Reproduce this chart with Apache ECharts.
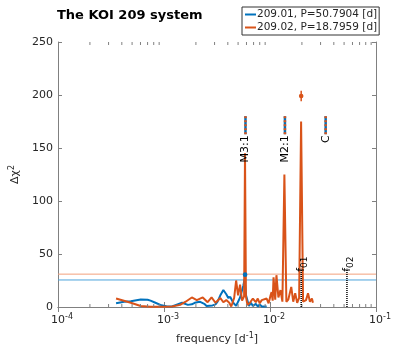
<!DOCTYPE html>
<html>
<head>
<meta charset="utf-8">
<script src="https://cdn.jsdelivr.net/npm/echarts@6/dist/echarts.min.js"></script>
<style>
html, body { margin: 0; padding: 0; background: #fff; }
#chart { width: 416px; height: 353px; }
</style>
</head>
<body>
<div id="chart"></div>
<script>
// periodogram of planet 209.01 (blue)
const freq01 = [3.53e-4, 4.2e-4, 4.86e-4, 6.03e-4, 7.0e-4, 7.46e-4, 8.3e-4, 9.24e-4, 1.07e-3, 1.19e-3, 1.3e-3, 1.48e-3,
  1.68e-3, 1.83e-3, 1.95e-3, 2.17e-3, 2.4e-3, 2.52e-3, 2.87e-3, 3.06e-3, 3.2e-3, 3.40e-3, 3.63e-3, 3.87e-3, 4.04e-3,
  4.22e-3, 4.5e-3, 4.79e-3, 5.22e-3, 5.6e-3, 5.75e-3, 5.94e-3, 6.33e-3, 6.61e-3, 6.89e-3, 7.35e-3, 7.67e-3, 8.0e-3,
  8.36e-3, 8.72e-3, 9.3e-3];
const dchi01 = [3.5, 5, 5.5, 7, 6.8, 6, 4, 2, 0.5, 0.5, 2, 4,
  2, 2.5, 4, 5, 3, 1, 1.5, 2.5, 5, 11, 16, 12, 8.5,
  9.5, 4, 1, 9, 20, 26, 11, 1, 4, 1, 3, 0.5, 2.5,
  0.5, 2, 0.5];

// periodogram of planet 209.02 (orange)
const freq02 = [3.53e-4, 4.86e-4, 6.03e-4, 7.46e-4, 9.24e-4, 1.19e-3, 1.42e-3, 1.6e-3, 1.83e-3, 2.04e-3, 2.32e-3, 2.58e-3,
  2.81e-3, 3.06e-3, 3.40e-3, 3.63e-3, 3.87e-3, 4.13e-3, 4.31e-3, 4.59e-3, 4.79e-3, 5.0e-3, 5.22e-3, 5.45e-3,
  5.7e-3, 5.81e-3, 5.93e-3, 6.12e-3, 6.47e-3, 6.89e-3, 7.35e-3, 7.67e-3, 8.0e-3, 8.36e-3, 8.72e-3, 9.3e-3, 9.7e-3,
  1.013e-2, 1.035e-2, 1.06e-2, 1.08e-2, 1.12e-2, 1.15e-2, 1.2e-2, 1.228e-2, 1.255e-2, 1.309e-2, 1.367e-2, 1.427e-2,
  1.489e-2, 1.587e-2, 1.656e-2, 1.729e-2, 1.805e-2, 1.883e-2, 1.965e-2, 2.051e-2, 2.187e-2, 2.283e-2, 2.382e-2,
  2.487e-2, 2.541e-2];
const dchi02 = [8, 4, 1, 0.3, 0.2, 0.5, 2, 5, 9, 6.5, 9, 4.5,
  9, 4, 8.5, 4.5, 6.5, 4, 0.5, 8.5, 25, 11, 21, 6,
  10, 145, 10, 2, 4, 8, 4.5, 8, 3.5, 6.5, 6.5, 8, 3.5,
  11, 14, 6, 28, 7, 30, 9, 8.5, 16, 5, 125, 5,
  7, 19, 5, 13, 4, 8.5, 175, 5, 6.5, 13, 5,
  8, 4];

const seriesNames = ['209.01, P=50.7904 [d]', '209.02, P=18.7959 [d]'];
const thresholds = [25.5, 31];

// resonance markers
const markerNames = ['M3:1', 'M2:1', 'C'];
const markerFreqs = [0.00587, 0.01383, 0.0335];
const markerRange = [163, 180];

// orbital frequencies
const orbitNames = ['01', '02'];
const orbitFreqs = [0.01969, 0.0532];
const orbitTop = 36;

// best fit points with error bars
const bestFreqs = [0.00582, 0.01969];
const bestDchi = [30.5, 199];
const bestErr = [0.8, 5];

const minorTicks = [2e-4, 3e-4, 4e-4, 5e-4, 6e-4, 7e-4, 8e-4, 9e-4,
  2e-3, 3e-3, 4e-3, 5e-3, 6e-3, 7e-3, 8e-3, 9e-3,
  2e-2, 3e-2, 4e-2, 5e-2, 6e-2, 7e-2, 8e-2, 9e-2];

const blue = '#0072BD';
const orange = '#D95319';
const font = 'DejaVu Sans';
const txt = '#262626';
const axisGray = '#808080';

const chart = echarts.init(document.getElementById('chart'));

const zip = (xs, ys) => xs.map((x, i) => [x, ys[i]]);

const supRich = {
  b: { fontSize: 11, lineHeight: 15, color: txt, fontFamily: font },
  s: { fontSize: 8, lineHeight: 9, verticalAlign: 'top', color: txt, fontFamily: font }
};

const option = {
  animation: false,
  title: {
    text: 'The KOI 209 system',
    left: 52, top: 4,
    textStyle: { fontSize: 13, fontWeight: 'bold', color: '#000', fontFamily: font }
  },
  legend: {
    data: seriesNames,
    orient: 'vertical',
    left: 242, top: 7,
    icon: 'rect',
    itemWidth: 11, itemHeight: 2, itemGap: 2,
    borderColor: '#333', borderWidth: 1, borderRadius: 0,
    padding: [2, 2, 2, 3],
    textStyle: { fontSize: 10.5, color: txt, fontFamily: font, padding: [0, 0, 0, -4] }
  },
  grid: { left: 54, right: 40, top: 42, bottom: 46 },
  xAxis: [{
    type: 'log', logBase: 10, min: 1e-4, max: 1e-1,
    name: '{a|frequency [d}{s|-1}{a|]}',
    nameLocation: 'middle', nameGap: 25,
    nameTextStyle: {
      rich: {
        a: { fontSize: 11, lineHeight: 15, color: txt, fontFamily: font },
        s: { fontSize: 8, lineHeight: 9, verticalAlign: 'top', color: txt, fontFamily: font }
      }
    },
    axisLine: { lineStyle: { color: axisGray, width: 1 } },
    axisTick: { inside: true, length: 5, lineStyle: { color: axisGray } },
    axisLabel: {
      margin: 6,
      padding: [0, 0, 0, 8],
      formatter: v => '{b|10}{s|' + Math.round(Math.log10(v)) + '}',
      rich: supRich
    },
    splitLine: { show: false }
  }, {
    type: 'log', logBase: 10, min: 1e-4, max: 1e-1, position: 'top',
    axisLine: { lineStyle: { color: axisGray, width: 1 } },
    axisTick: { inside: true, length: 5, lineStyle: { color: axisGray } },
    axisLabel: { show: false },
    splitLine: { show: false }
  }],
  yAxis: [{
    type: 'value', min: 0, max: 250, interval: 50,
    name: '{a|\u0394\u03c7}{s|2}',
    nameLocation: 'middle', nameRotate: 90, nameGap: 35,
    nameTextStyle: {
      rich: {
        a: { fontSize: 11, lineHeight: 15, color: txt, fontFamily: font },
        s: { fontSize: 8, lineHeight: 9, verticalAlign: 'top', color: txt, fontFamily: font }
      }
    },
    axisLine: { show: true, lineStyle: { color: axisGray, width: 1 } },
    axisTick: { inside: true, length: 4, lineStyle: { color: axisGray } },
    axisLabel: { fontSize: 11, color: txt, fontFamily: font, margin: 5 },
    splitLine: { show: false }
  }, {
    type: 'value', min: 0, max: 250, interval: 50, position: 'right',
    axisLine: { show: true, lineStyle: { color: axisGray, width: 1 } },
    axisTick: { inside: true, length: 4, lineStyle: { color: axisGray } },
    axisLabel: { show: false },
    splitLine: { show: false }
  }],
  series: [
    {
      name: 'thr01', type: 'line', silent: true, symbol: 'none', z: 1,
      data: [[1e-4, thresholds[0]], [1e-1, thresholds[0]]],
      lineStyle: { color: '#4da3dc', width: 1 }
    },
    {
      name: 'thr02', type: 'line', silent: true, symbol: 'none', z: 1,
      data: [[1e-4, thresholds[1]], [1e-1, thresholds[1]]],
      lineStyle: { color: '#f2a07c', width: 1 }
    },
    {
      name: seriesNames[0], type: 'line', symbol: 'none', z: 3,
      data: zip(freq01, dchi01),
      itemStyle: { color: blue },
      lineStyle: { color: blue, width: 2 }
    },
    {
      name: seriesNames[1], type: 'line', symbol: 'none', z: 4,
      data: zip(freq02, dchi02),
      itemStyle: { color: orange },
      lineStyle: { color: orange, width: 2 }
    },
    {
      // minor ticks of the log axis, bottom and top
      type: 'custom', silent: true, clip: false, z: 5,
      data: minorTicks.map(f => [f, 0]),
      renderItem: (params, api) => {
        const b = api.coord([api.value(0), 0]);
        const t = api.coord([api.value(0), 250]);
        return {
          type: 'group', children: [
            { type: 'line', shape: { x1: b[0], y1: b[1], x2: b[0], y2: b[1] - 3 }, style: { stroke: axisGray, lineWidth: 1 } },
            { type: 'line', shape: { x1: t[0], y1: t[1], x2: t[0], y2: t[1] + 3 }, style: { stroke: axisGray, lineWidth: 1 } }
          ]
        };
      }
    },
    {
      // resonance markers with labels
      type: 'custom', silent: true, z: 6,
      data: markerFreqs.map((f, i) => [f, markerRange[0], markerRange[1], i]),
      renderItem: (params, api) => {
        const p0 = api.coord([api.value(0), api.value(1)]);
        const p1 = api.coord([api.value(0), api.value(2)]);
        return {
          type: 'group', children: [
            { type: 'line', shape: { x1: p0[0], y1: p0[1], x2: p1[0], y2: p1[1] }, style: { stroke: blue, lineWidth: 2.5 } },
            { type: 'line', shape: { x1: p0[0], y1: p0[1], x2: p1[0], y2: p1[1] }, style: { stroke: orange, lineWidth: 2.5, lineDash: [2, 2] } },
            {
              type: 'text', x: p0[0], y: p0[1] + 1, rotation: Math.PI / 2,
              style: { text: markerNames[api.value(3)], align: 'right', verticalAlign: 'middle', fontSize: 11, fill: '#000', fontFamily: font }
            }
          ]
        };
      }
    },
    {
      // orbital frequencies, dotted
      type: 'custom', silent: true, z: 6,
      data: orbitFreqs.map((f, i) => [f, orbitTop, i]),
      renderItem: (params, api) => {
        const p0 = api.coord([api.value(0), 0]);
        const p1 = api.coord([api.value(0), api.value(1)]);
        return {
          type: 'group', children: [
            { type: 'line', shape: { x1: p0[0], y1: p0[1], x2: p1[0], y2: p1[1] }, style: { stroke: '#000', lineWidth: 1.5, lineDash: [1, 1] } },
            {
              type: 'text', x: p1[0], y: p1[1] + 3, rotation: Math.PI / 2,
              style: {
                text: '{f|f}{s|' + orbitNames[api.value(2)] + '}', align: 'left', verticalAlign: 'middle',
                rich: {
                  f: { fontSize: 11, lineHeight: 16, fill: '#000', fontFamily: font },
                  s: { fontSize: 9, lineHeight: 10, verticalAlign: 'bottom', fill: '#000', fontFamily: font }
                }
              }
            }
          ]
        };
      }
    },
    {
      // best fit points with error bars
      type: 'custom', silent: true, z: 7,
      data: bestFreqs.map((f, i) => [f, bestDchi[i], bestErr[i], i]),
      renderItem: (params, api) => {
        const f = api.value(0), v = api.value(1), e = api.value(2);
        const c = api.value(3) === 0 ? blue : orange;
        const p = api.coord([f, v]);
        const lo = api.coord([f, v - e]);
        const hi = api.coord([f, v + e]);
        return {
          type: 'group', children: [
            { type: 'line', shape: { x1: lo[0], y1: lo[1], x2: hi[0], y2: hi[1] }, style: { stroke: c, lineWidth: 1.5 } },
            { type: 'circle', shape: { cx: p[0], cy: p[1], r: 2.3 }, style: { fill: c } }
          ]
        };
      }
    }
  ]
};

chart.setOption(option);
</script>
</body>
</html>
